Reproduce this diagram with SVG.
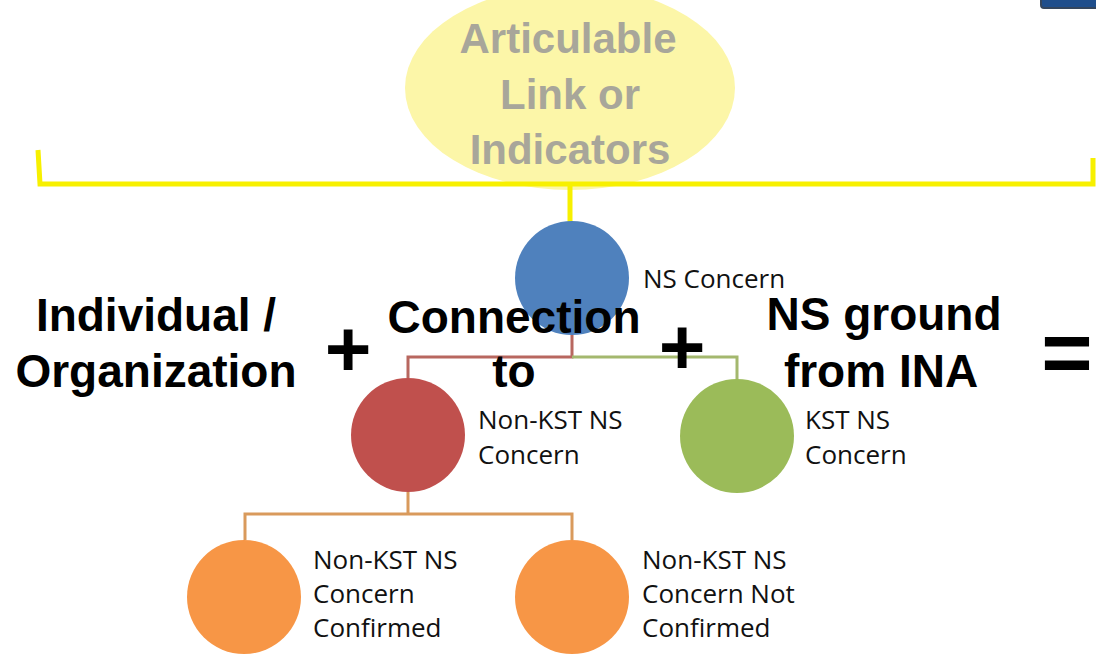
<svg xmlns="http://www.w3.org/2000/svg" width="1096" height="662" viewBox="0 0 1096 662">
<style>
.big{font-family:"Liberation Sans",Arial,sans-serif;font-weight:bold;font-size:46px;fill:#000;text-anchor:middle}
.op{font-family:"Liberation Sans",Arial,sans-serif;font-weight:bold;fill:#000;text-anchor:middle}
.lbl{font-family:"Open Sans","Noto Sans",sans-serif;font-size:26px;fill:#111}
.ell{font-family:"Liberation Sans",Arial,sans-serif;font-weight:bold;font-size:42px;fill:#a8a69a;text-anchor:middle}
.yl{stroke:#f7f000;stroke-width:5;fill:none}
.cn{fill:none;stroke-width:3}
</style>
<rect width="1096" height="662" fill="#ffffff"/>
<g id="header-box">
<rect x="1041" y="-12" width="62" height="20" rx="3" fill="#1f4e8c" stroke="#34465e" stroke-width="2"/>
</g>
<g id="indicators">
<ellipse cx="570" cy="88" rx="165" ry="102" fill="#fcf6a8"/>
<text class="ell" x="568" y="53">Articulable</text>
<text class="ell" x="570" y="109">Link or</text>
<text class="ell" x="570" y="164">Indicators</text>
</g>
<g id="connectors">
<path class="yl" d="M38 150 L40 184 L1093 184 L1093 158"/>
<path class="yl" d="M570 184 L570 222"/>
<path class="cn" stroke="#b8675f" d="M572 335 L572 357 L408 357 L408 378"/>
<path class="cn" stroke="#a4b86e" d="M572 357 L737 357 L737 380"/>
<path class="cn" stroke="#d99a5c" d="M408 492 L408 514 L245 514 L245 540 M408 514 L572 514 L572 540"/>
</g>
<g id="ns-concern">
<circle cx="572" cy="278" r="57" fill="#4f81bd"/>
<text class="lbl" x="643" y="288">NS Concern</text>
</g>
<g id="non-kst">
<circle cx="408" cy="435" r="57" fill="#c0504d"/>
<text class="lbl" x="478" y="429">Non-KST NS</text>
<text class="lbl" x="478" y="464">Concern</text>
</g>
<g id="kst">
<circle cx="737" cy="436" r="57" fill="#9bbb59"/>
<text class="lbl" x="805" y="429">KST NS</text>
<text class="lbl" x="805" y="464">Concern</text>
</g>
<g id="confirmed">
<circle cx="244" cy="597" r="57" fill="#f79646"/>
<text class="lbl" x="313" y="569">Non-KST NS</text>
<text class="lbl" x="313" y="603">Concern</text>
<text class="lbl" x="313" y="637">Confirmed</text>
</g>
<g id="not-confirmed">
<circle cx="572" cy="597" r="57" fill="#f79646"/>
<text class="lbl" x="642" y="569">Non-KST NS</text>
<text class="lbl" x="642" y="603">Concern Not</text>
<text class="lbl" x="642" y="637">Confirmed</text>
</g>
<g id="equation">
<text class="big" x="156" y="331">Individual /</text>
<text class="big" x="156" y="387">Organization</text>
<text class="op" x="348" y="376" font-size="80">+</text>
<text class="big" x="514" y="333">Connection</text>
<text class="big" x="514" y="387">to</text>
<text class="op" x="682" y="374" font-size="80">+</text>
<text class="big" x="884" y="330">NS ground</text>
<text class="big" x="881" y="387">from INA</text>
<text class="op" x="1067" y="382" font-size="88">=</text>
</g>
</svg>
